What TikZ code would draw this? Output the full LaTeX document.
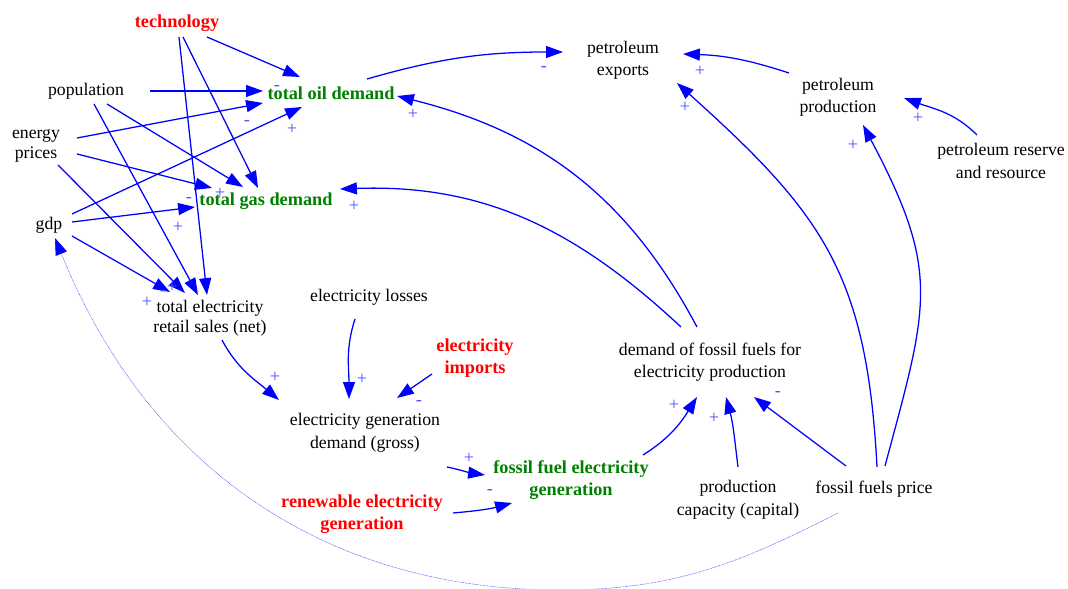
\documentclass[tikz,border=0pt]{standalone}
\usepackage{fontspec}
\setmainfont{Liberation Serif}
\usetikzlibrary{arrows.meta}

\definecolor{linkblue}{RGB}{0,0,255}
\definecolor{signblue}{RGB}{80,80,255}
\definecolor{vargreen}{RGB}{0,128,0}
\definecolor{varred}{RGB}{255,0,0}

\begin{document}
\begin{tikzpicture}[x=0.025cm, y=0.025cm,
    var/.style={align=center, inner sep=0pt, font=\fontsize{12.6}{16}\selectfont},
    tight/.style={font=\fontsize{12.6}{14}\selectfont},
    key/.style={var, font=\fontsize{13}{16}\selectfont\bfseries},
    link/.style={linkblue, line width=0.9pt, -{Triangle[length=12pt,width=8.5pt]}},
    delay/.style={signblue, line width=0.4pt, dash pattern=on 0.5pt off 0.5pt,
      -{Triangle[length=12pt,width=8.5pt,color=linkblue]}},
    sign/.style={signblue, inner sep=0pt, font=\fontsize{13}{13}\selectfont}]
    \useasboundingbox (0,0) rectangle (1068,-589);

    % variables
    \node[key, varred] (tech) at (177,-23) {technology};
    \node[var] (pop) at (86,-91) {population};
    \node[key, vargreen] (oil) at (331,-93) {total oil demand};
    \node[var, tight] (ep) at (36,-146) {energy\\prices};
    \node[key, vargreen] (gas) at (266,-201) {total gas demand};
    \node[var] (gdp) at (49,-225) {gdp};
    \node[var, tight] (tes) at (210,-318) {total electricity\\retail sales (net)};
    \node[var] (loss) at (369,-297) {electricity losses};
    \node[key, varred] (imp) at (475,-358) {electricity\\imports};
    \node[var] (egd) at (365,-433) {electricity generation\\demand (gross)};
    \node[key, vargreen] (ffg) at (571,-480) {fossil fuel electricity\\generation};
    \node[key, varred] (ren) at (362,-514) {renewable electricity\\generation};
    \node[var] (dff) at (710,-362) {demand of fossil fuels for\\electricity production};
    \node[var] (cap) at (738,-500) {production\\capacity (capital)};
    \node[var] (ffp) at (874,-489) {fossil fuels price};
    \node[var] (exp) at (623,-60) {petroleum\\exports};
    \node[var] (prod) at (838,-97) {petroleum\\production};
    \node[var] (res) at (1001,-161) {petroleum reserve\\and resource};
    \coordinate (dip) at (560,-590);

    % demand drivers
    \draw[link] ([shift={(30,-14)}]tech.center) -- ([shift={(-31,16)}]oil.center);
    \draw[link] ([shift={(6,-14)}]tech.center) -- ([shift={(-8,13)}]gas.center);
    \draw[link] ([shift={(2,-14)}]tech.center) -- ([shift={(-3,23)}]tes.center);
    \draw[link] ([shift={(64,0)}]pop.center) -- ([shift={(-68,2)}]oil.center);
    \draw[link] ([shift={(8,-13)}]pop.center) -- ([shift={(-12,23)}]tes.center);
    \draw[link] ([shift={(21,-13)}]pop.center) -- ([shift={(-23,14)}]gas.center);
    \draw[link] ([shift={(41,8)}]ep.center) -- ([shift={(-68,-10)}]oil.center);
    \draw[link] ([shift={(41,-8)}]ep.center) -- ([shift={(-54,13)}]gas.center);
    \draw[link] ([shift={(22,-19)}]ep.center) -- ([shift={(-25,25)}]tes.center);
    \draw[link] ([shift={(23,11)}]gdp.center) -- ([shift={(-29,-14)}]oil.center);
    \draw[link] ([shift={(23,3)}]gdp.center) -- ([shift={(-71,-6)}]gas.center);
    \draw[link] ([shift={(23,-11)}]gdp.center) -- ([shift={(-40,26)}]tes.center);

    % fossil fuels and petroleum
    \draw[link] ([shift={(-29,35)}]dff.center) to[out=137, in=2] ([shift={(74,12)}]gas.center);
    \draw[link] ([shift={(-13,35)}]dff.center) to[out=118, in=-14] ([shift={(66,-3)}]oil.center);
    \draw[link] ([shift={(36,14)}]oil.center) to[out=16, in=180] ([shift={(-60,8)}]exp.center);
    \draw[link] ([shift={(-49,24)}]prod.center) to[out=162, in=-2] ([shift={(60,6)}]exp.center);
    \draw[link] ([shift={(3,22)}]ffp.center) to[out=93, in=-42, looseness=1.15] ([shift={(54,-23)}]exp.center);
    \draw[link] ([shift={(11,23)}]ffp.center) to[out=75, in=-62, looseness=1.25] ([shift={(25,-28)}]prod.center);
    \draw[link] ([shift={(-24,26)}]res.center) to[out=135, in=-20] ([shift={(66,-1)}]prod.center);

    % electricity
    \draw[link] ([shift={(12,-22)}]tes.center) to[out=-62, in=140] ([shift={(-86,33)}]egd.center);
    \draw[link] ([shift={(-14,-22)}]loss.center) to[out=-108, in=90] ([shift={(-16,34)}]egd.center);
    \draw[link] ([shift={(-43,-16)}]imp.center) -- ([shift={(32,35)}]egd.center);
    \draw[link] ([shift={(82,-34)}]egd.center) to[out=-12, in=172] ([shift={(-86,5)}]ffg.center);
    \draw[link] ([shift={(91,1)}]ren.center) to[out=5, in=-165] ([shift={(-59,-23)}]ffg.center);
    \draw[link] ([shift={(72,25)}]ffg.center) to[out=32, in=-122] ([shift={(-13,-35)}]dff.center);
    \draw[link] ([shift={(0,33)}]cap.center) to[out=97, in=-75] ([shift={(16,-35)}]dff.center);
    \draw[link] ([shift={(-28,23)}]ffp.center) -- ([shift={(44,-35)}]dff.center);

    % price feedback on gdp
    \draw[delay] ([shift={(-36,-24)}]ffp.center) to[out=207, in=0] (dip)
      to[out=180, in=-68] ([shift={(6,-13)}]gdp.center);

    % polarities
    \foreach \x/\y/\s [count=\i] in {277/-88/-, 247/-123/-, 292/-129/+, 220/-193/+,
        189/-200/-, 178/-227/+, 163/-293/-, 172/-287/+, 147/-302/+, 413/-114/+,
        354/-206/+, 544/-69/-, 700/-71/+, 685/-107/+, 853/-145/+, 918/-118/+,
        275/-377/+, 362/-379/+, 419/-403/-, 469/-458/+, 490/-492/-, 674/-405/+,
        714/-418/+, 778/-394/-}
      \node[sign] (s\i) at (\x,\y) {\s};
  \end{tikzpicture}
\end{document}
